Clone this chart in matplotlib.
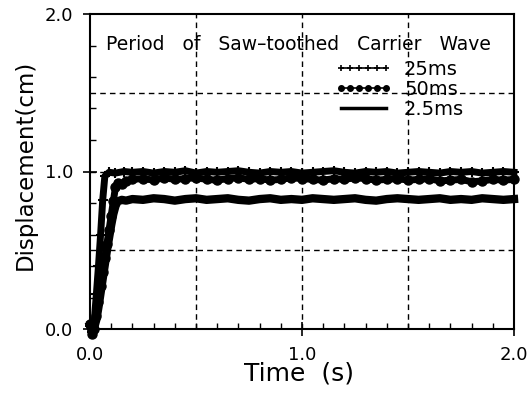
import matplotlib
matplotlib.use('Agg')
import matplotlib.pyplot as plt
from matplotlib.lines import Line2D
from matplotlib.ticker import MultipleLocator, FixedLocator, FormatStrFormatter

plt.rcParams['font.family'] = ['DejaVu Sans']

# rise part of each response (time in s, displacement in cm)
t_rise_25 = [0.0, 0.01, 0.02, 0.03, 0.04, 0.05, 0.06, 0.07, 0.09, 0.12, 0.16]
y_rise_25 = [0.02, -0.02, 0.05, 0.22, 0.40, 0.60, 0.82, 0.97, 0.995, 0.99, 1.0]

t_rise_50 = [0.0, 0.01, 0.02, 0.03, 0.04, 0.05, 0.06, 0.07, 0.08, 0.09, 0.10, 0.11, 0.12, 0.13, 0.15, 0.17]
y_rise_50 = [0.03, -0.03, 0.0, 0.08, 0.17, 0.27, 0.36, 0.45, 0.54, 0.63, 0.72, 0.81, 0.90, 0.93, 0.92, 0.94]

t_rise_2p5 = [0.0, 0.01, 0.02, 0.03, 0.04, 0.05, 0.06, 0.07, 0.08, 0.09, 0.10, 0.11, 0.12, 0.13, 0.15, 0.17]
y_rise_2p5 = [0.02, -0.02, 0.01, 0.06, 0.14, 0.23, 0.32, 0.41, 0.50, 0.58, 0.66, 0.73, 0.78, 0.81, 0.82, 0.815]

# plateau part, shared time samples
t_plat = [0.20, 0.25, 0.30, 0.35, 0.40, 0.45, 0.50, 0.55, 0.60, 0.65,
          0.70, 0.75, 0.80, 0.85, 0.90, 0.95, 1.00, 1.05, 1.10, 1.15,
          1.20, 1.25, 1.30, 1.35, 1.40, 1.45, 1.50, 1.55, 1.60, 1.65,
          1.70, 1.75, 1.80, 1.85, 1.90, 1.95, 2.00]
y_plat_25 = [0.995, 1.0, 0.99, 1.0, 0.995, 1.005, 0.99, 1.0, 0.995, 1.0,
             1.005, 0.995, 0.99, 1.0, 0.995, 1.0, 0.99, 0.995, 1.0, 1.005,
             0.995, 0.99, 1.0, 0.995, 1.0, 0.99, 0.995, 1.0, 0.995, 0.99,
             1.0, 0.995, 1.0, 0.99, 0.995, 1.0, 0.995]
y_plat_50 = [0.95, 0.955, 0.945, 0.96, 0.95, 0.955, 0.96, 0.95, 0.945, 0.955,
             0.96, 0.95, 0.955, 0.945, 0.95, 0.96, 0.955, 0.95, 0.945, 0.955,
             0.95, 0.96, 0.955, 0.945, 0.95, 0.955, 0.945, 0.95, 0.955, 0.94,
             0.945, 0.95, 0.935, 0.94, 0.95, 0.945, 0.95]
y_plat_2p5 = [0.825, 0.82, 0.83, 0.825, 0.815, 0.825, 0.83, 0.82, 0.825, 0.83,
              0.82, 0.815, 0.825, 0.83, 0.82, 0.825, 0.82, 0.83, 0.825, 0.82,
              0.825, 0.83, 0.82, 0.815, 0.825, 0.83, 0.825, 0.82, 0.825, 0.83,
              0.82, 0.825, 0.82, 0.83, 0.825, 0.82, 0.825]

labels = ['25ms', '50ms', '2.5ms']
title_text = 'Period   of   Saw\u2013toothed   Carrier   Wave'


fig = plt.figure(figsize=(5.28, 3.93), dpi=100)
ax = fig.add_axes([90/528, 64/393, 424/528, 315/393])

ax.plot(t_rise_2p5 + t_plat, y_rise_2p5 + y_plat_2p5, color='k', lw=6,
        clip_on=False, zorder=3)
ax.plot(t_rise_50 + t_plat, y_rise_50 + y_plat_50, color='k', lw=5,
        marker='o', ms=6.5, mfc='k', clip_on=False, zorder=3)
ax.plot(t_rise_25 + t_plat, y_rise_25 + y_plat_25, color='k', lw=5,
        marker='+', ms=7, mew=1.5, clip_on=False, zorder=3)

ax.set_xlim(0, 2.0)
ax.set_ylim(0, 2.0)
ax.xaxis.set_major_locator(FixedLocator([0.0, 1.0, 2.0]))
ax.yaxis.set_major_locator(FixedLocator([0.0, 1.0, 2.0]))
ax.xaxis.set_minor_locator(MultipleLocator(0.1))
ax.yaxis.set_minor_locator(MultipleLocator(0.2))
ax.xaxis.set_major_formatter(FormatStrFormatter('%.1f'))
ax.yaxis.set_major_formatter(FormatStrFormatter('%.1f'))
ax.tick_params(which='major', direction='inout', length=10, width=1.2,
               labelsize=13, pad=7)
ax.tick_params(which='minor', direction='in', length=4, width=1)
for sp in ax.spines.values():
    sp.set_linewidth(1.5)

# dashed grid at 0.5 steps
for v in [0.5, 1.0, 1.5]:
    ax.axvline(v, color='k', lw=1, ls=(0, (4, 3)), zorder=1)
    ax.axhline(v, color='k', lw=1, ls=(0, (4, 3)), zorder=1)

fig.text(106/528, 1 - 45/393, title_text, fontsize=13.5, ha='left', va='center')

# legend keys are drawn thin, like the original
handles = [
    Line2D([0], [0], color='k', lw=1.2, marker='+', ms=4, mew=1.2),
    Line2D([0], [0], color='k', lw=1.2, marker='o', ms=4, mfc='k'),
    Line2D([0], [0], color='k', lw=2.5),
]
ax.legend(handles, labels, loc='upper left',
          bbox_to_anchor=((335 - 90)/424, (329 - 60)/315), frameon=False,
          fontsize=14, numpoints=6, handlelength=2.9, handletextpad=0.65,
          labelspacing=0.05, borderpad=0, borderaxespad=0)

fig.text(25/528, 1 - 165/393, 'Displacement(cm)', rotation=90, fontsize=16.5,
         ha='center', va='center')
fig.text(299/528, 1 - 374/393, 'Time  (s)', fontsize=18, ha='center', va='center')

fig.savefig('out.png', dpi=100)
